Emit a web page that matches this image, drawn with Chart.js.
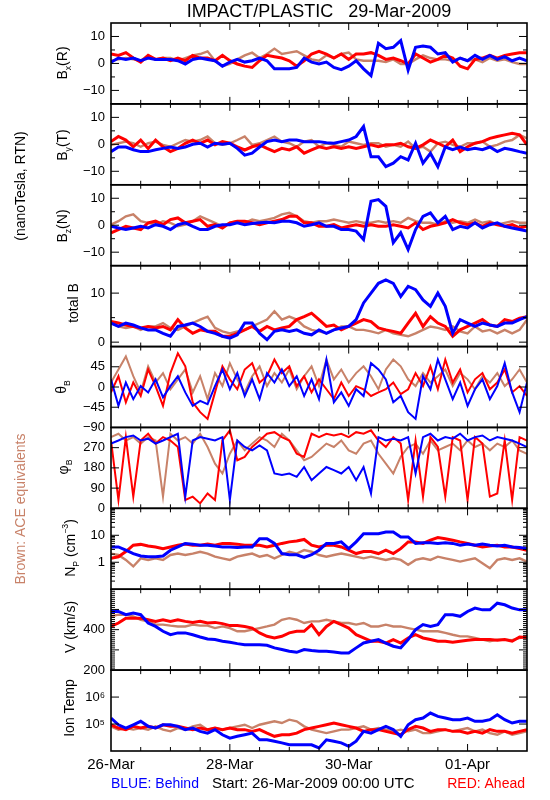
<!DOCTYPE html>
<html>
<head>
<meta charset="utf-8">
<script src="https://cdn.jsdelivr.net/npm/chart.js@4.4.1/dist/chart.umd.min.js"></script>
<style>
  html, body { margin: 0; padding: 0; background: #fff; }
  #wrap { position: relative; width: 550px; height: 800px; }
</style>
</head>
<body>
<div id="wrap"><canvas id="plasma" width="550" height="800"></canvas></div>
<script>
// Time grid: hours since 26-Mar-2009 00:00 UTC, one sample every 3 hours
const hours = [0,3,6,9,12,15,18,21,24,27,30,33,36,39,42,45,48,51,54,57,60,63,66,69,72,75,78,81,84,87,90,93,96,99,102,105,108,111,114,117,120,123,126,129,132,135,138,141,144,147,150,153,156,159,162,165,168];
const dayTicks = [0, 48, 96, 144];
const dayLabels = ['26-Mar', '28-Mar', '30-Mar', '01-Apr'];

// Bx (nT)
const bxBlue = [0.5,2,1.5,2,1,2,1.5,1.5,1.5,1,-0.2,1.5,2,1.5,1,-1,0.5,1.5,0.5,1,2,1,-2,-2,-2,-1.5,2,0.5,-0.2,0.5,-1.5,-2.3,-1,1,-2,-4.5,7.5,5.5,6,8.5,-2.5,6,6.5,6,3.5,4,0.5,2,1,3,1.5,3,1.5,2.5,1,2,1];
const bxRed = [3.5,3,4,2,0.5,3,1.5,2,1,2,1,3,2,2,1,3,1,-0.2,-1,-1.5,1,3,2.5,2,1,-1,1,3.5,4.5,3.5,2,3.5,1.5,3.5,3.5,4,3,1.5,2,1,-0.2,3.5,2,0.5,1.5,3,2,-1,-2,1.5,2,3,2,3,3.5,4,4];
const bxBrown = [1,1.5,2,1.5,1,3,1.5,2,2,1,2,3,3.5,4.5,1,-1,-0.2,1.5,3,4,2,3.5,5.5,3.5,4,4.5,3,1.5,1,3,2,3.5,4,1.5,1,1,1,0.5,1.5,-0.2,-0.2,1.5,3,2,1.5,1.5,1,2,1,1.5,0.5,2,1,1.5,0.5,-0.2,-0.2];

// By (nT)
const byBlue = [-2.7,-1,-1,-2,-2.7,-2.7,-2,-1.5,-1,-1.5,-1,0,0.4,-1,0.4,0,0.4,-1.5,-4,-3.3,-1,1,1.6,1,1.6,1.6,1,1,1,0.6,0.4,1,1.6,2.9,6.6,-4.6,-4.6,-8.3,-7,-4.6,-5.8,0.4,-7,-3.3,-8.3,-1,-2,-1,-2,-1.5,-2,-1,-2.7,-1.5,-2,-2.7,-3.3];
const byRed = [1,2.9,1.6,-0.9,1.6,-1.5,1.6,-0.9,-2.7,-1.5,0.4,1.6,0.4,1.6,-0.2,1,0.4,-0.9,-2.1,-0.9,-0.2,-1.5,-2.7,-1.5,-2.1,-0.9,-3.3,-2.1,-0.9,-1.5,-0.9,-1.5,-0.9,-1.5,-0.9,-0.2,-0.9,-0.2,-0.2,0.4,-0.9,-1.5,-0.2,1.6,0.4,-0.9,1.6,-2.7,-0.9,0.4,1,2.2,2.9,3.5,4.1,3.5,-0.2];
const byBrown = [-0.2,0.4,1,0.4,-0.9,0.4,1,-0.2,-0.9,0.4,1.6,1,1.6,2.9,0.4,-0.2,0.4,1.6,2.9,-0.2,0.4,1.6,2.9,1,0.4,-0.9,1,1.6,-0.9,0.4,-0.2,-0.9,1,0.4,-0.2,0.4,0.4,-0.9,-0.2,-0.9,1,-1.5,-0.9,-2.7,0.4,1,-0.2,-0.9,0.4,0.4,1,-0.9,-0.2,1,1.6,3.5,2.2];

// Bz (nT)
const bzBlue = [-0.4,-1,-1.6,-1,-0.4,-1,0.2,-0.4,-1.6,0.2,0.9,-0.4,-1.6,-1.6,-0.4,0.2,0.2,0.9,0.2,0.6,0.9,1.1,0.9,1.5,1.5,0.9,-0.4,0.2,0.9,-0.4,-0.4,-1.6,-1.6,-2.2,-5.3,8.9,9.5,7,-6.5,-2.8,-9,-1.6,3.3,4.6,0.9,3.3,-1.6,-0.4,-1,0.9,-1,0.2,0.9,-0.4,-1,-1.6,-2.2];
const bzRed = [-2.8,-1.6,-0.4,-1,-1.6,0.9,1.5,0.2,2.1,2.7,0.9,1.5,2.1,-0.4,0.2,-1,0.9,1.5,1.5,0.9,0.2,0.9,1.5,2.1,3.3,3.3,0.9,0.9,-0.4,-0.4,0.2,-1,-0.4,0.2,-0.4,0.2,-0.4,-0.4,0.2,-0.4,-1,0.9,-1.6,-0.4,0.2,0.9,2.1,0.9,0.2,0.9,-0.4,0.9,0.2,-0.4,0.2,-1,-0.4];
const bzBrown = [0.2,1.5,3.3,4,1.5,0.9,0.2,1.5,0.9,-0.4,0.2,1.5,3.3,2.1,0.9,-0.4,0.9,1.5,0.9,2.1,1.5,2.1,2.7,4,4.6,3.3,1.5,0.9,1.5,1.5,2.1,1.5,0.9,1.5,0.9,0.9,1.5,0.9,1.5,0.9,2.7,1.5,0.9,0.9,0.2,1.5,0.9,1.5,0.9,2.1,0.9,1.5,0.2,0.9,1.5,0.9,0.9];

// total B (nT)
const btBlue = [3.9,3.2,3.9,3.5,2.9,2.5,2.5,1.8,1.2,3.2,3.5,3.9,3.2,2.2,1.8,1.2,0.8,1.5,3.9,3.9,1.8,0.5,2.2,2.5,2.2,2.5,1.8,1.5,2.5,1.8,2.5,2.9,3.2,4.6,8,10,12,12.7,12,9.3,11.4,10.7,8.6,7.3,10,7.3,1.8,4.6,3.9,3.2,3.9,3.5,3.2,3.9,3.9,4.6,5.2];
const btRed = [4.2,3.9,3.5,3.2,2.9,3.2,2.9,3.2,2.5,4.6,2.9,1.8,2.5,2.2,2.2,1.2,1.2,1.8,2.5,3.2,2.2,3.2,2.5,2.9,3.2,4.6,5.2,5.9,4.6,3.2,3.5,2.5,3.2,3.9,4.6,4.2,2.9,2.5,2.2,1.8,3.9,5.9,3.2,5.2,3.9,3.2,1.2,2.5,3.2,3.9,4.6,3.5,3.2,4.6,4.2,4.9,5.2];
const btBrown = [3.9,3.2,2.9,3.2,2.5,3.2,3.2,3.9,2.9,2.5,3.2,3.9,4.6,5.2,2.9,2.2,1.8,2.2,2.5,3.2,3.9,4.6,6.3,4.6,5.2,4.6,3.2,2.5,2.2,1.8,2.5,3.2,3.2,2.5,2.5,2.2,1.8,2.5,1.8,1.5,1.2,1.8,2.5,3.2,2.9,2.5,3.2,2.2,1.8,3.2,2.2,2.5,1.8,2.5,1.8,2.5,4.6];

// theta_B (deg)
const thBlue = [17,-42,10,-27,2,-12,17,-23,2,24,-12,-42,-31,-38,2,39,-5,31,-20,17,-27,31,10,39,2,24,-20,17,-27,61,-34,-12,-42,-5,-20,53,39,17,-34,-20,-56,-71,24,-5,61,17,-27,10,-42,-5,17,-27,2,53,-12,-56,10];
const thRed = [-12,24,-34,10,-20,39,2,-42,31,75,46,-34,-56,-71,-12,46,17,-5,39,53,10,24,61,31,46,2,24,-12,17,-5,-27,10,-20,2,-5,-20,-12,-5,10,-16,-5,31,2,46,-5,61,10,39,-12,17,31,-5,10,39,-12,2,-20];
const thBrown = [10,39,68,24,-12,46,10,31,-5,17,39,-12,24,-27,31,2,53,17,-12,24,46,2,31,10,39,-5,24,46,2,61,17,39,10,31,46,24,-5,39,61,46,17,2,31,10,24,39,2,31,17,-5,24,10,31,2,17,39,10];

// phi_B (deg)
const phBlue = [288,302,317,324,302,310,288,302,317,332,52,302,317,310,302,317,37,302,273,258,280,258,155,148,155,140,184,125,155,184,170,155,184,125,184,66,317,302,310,302,317,155,317,332,302,317,310,332,302,317,324,302,317,310,302,288,273];
const phRed = [302,37,317,52,302,332,288,317,302,273,37,52,22,66,37,302,347,214,229,273,302,332,339,317,302,243,229,332,317,332,324,332,317,339,332,347,302,273,317,288,37,302,52,317,273,52,317,302,37,317,288,52,66,302,37,317,302];
const phBrown = [317,332,302,317,288,317,302,52,332,302,317,288,332,273,199,155,243,302,258,288,317,302,273,332,302,258,214,229,258,288,273,302,258,243,288,302,243,199,155,229,273,288,243,302,258,273,288,258,302,273,288,258,288,273,302,258,243];

// proton density (cm^-3)
const npBlue = [3.7,3.7,2.8,2.1,1.7,1.6,1.6,1.7,2.8,3.7,5.0,4.7,4.3,4.3,4.0,3.7,3.7,3.5,3.7,3.7,7.5,7.5,5.0,2.1,1.9,1.9,1.5,1.9,2.8,5.0,5.0,5.7,3.2,5.7,11.5,11.5,11.5,13.2,13.2,8.7,8.7,5.0,5.3,5.3,5.0,5.3,5.0,4.3,4.7,4.3,4.7,4.3,4.0,4.3,3.7,3.5,3.2];
const npRed = [1.4,1.6,2.5,4.3,4.6,4.0,3.7,3.2,3.7,4.3,4.7,4.3,4.3,4.7,4.3,5.0,5.0,4.7,4.3,4.3,4.3,3.7,4.3,5.0,5.7,6.2,7.0,4.3,3.7,4.3,4.3,3.7,2.8,2.1,2.5,2.5,2.1,2.8,2.1,3.2,5.7,5.7,5.0,6.6,8.2,7.5,6.6,5.7,5.0,4.3,3.7,4.0,4.3,3.7,3.7,3.2,2.8];
const npBrown = [2.1,1.86,1.22,0.7,1.4,1.22,1.4,1.22,1.86,2.1,1.86,2.1,2.46,2.1,1.61,1.4,1.22,1.61,1.86,2.1,1.61,1.86,1.4,1.86,2.46,2.1,2.83,2.46,1.86,1.61,1.86,2.1,1.86,1.61,1.4,1.61,1.4,1.22,1.4,1.22,0.8,1.22,1.4,1.22,1.61,1.4,1.22,1.06,1.22,1.4,0.92,0.6,1.22,1.4,1.22,1.4,1.06];

// bulk speed (km/s)
const vBlue = [490,490,474,482,474,433,416,392,375,384,384,375,364,354,351,343,338,331,326,326,325,323,310,302,293,288,302,297,293,293,290,285,285,310,334,343,351,334,318,310,351,400,425,416,425,474,474,466,490,507,498,498,531,523,507,498,498];
const vRed = [416,433,457,457,457,449,441,449,441,449,441,436,441,433,436,430,420,420,416,408,384,367,359,367,384,392,392,425,375,416,441,425,408,375,359,343,343,334,351,334,359,375,359,351,343,343,338,343,348,351,351,351,348,351,343,364,361];
const vBrown = [466,474,474,466,449,441,425,425,420,416,416,425,420,420,408,416,408,392,392,400,408,416,425,449,457,449,433,441,441,449,441,433,433,425,433,416,416,425,416,416,408,400,392,392,392,384,375,367,367,359,351,343,351,351,348,359,367];

// ion temperature (K)
const tBlue = [1.67e5,9.4e4,7.1e4,9.4e4,1.26e5,8.2e4,7.1e4,9.4e4,9.4e4,8.2e4,6.2e4,7.1e4,5.35e4,4.6e4,6.2e4,4.0e4,3.0e4,3.5e4,4.0e4,4.6e4,2.6e4,2.6e4,2.3e4,2.0e4,1.7e4,1.7e4,1.7e4,1.7e4,1.3e4,2.6e4,2.3e4,2.0e4,1.5e4,2.3e4,5.35e4,4.6e4,6.2e4,8.2e4,6.2e4,3.5e4,9.4e4,1.45e5,1.67e5,2.55e5,1.92e5,1.67e5,1.45e5,1.45e5,1.67e5,1.26e5,1.26e5,1.45e5,2.22e5,1.45e5,1.09e5,1.26e5,1.26e5];
const tRed = [9.4e4,7.1e4,6.2e4,8.2e4,7.1e4,8.2e4,7.1e4,9.4e4,8.2e4,8.2e4,7.1e4,6.2e4,7.1e4,6.2e4,7.1e4,6.2e4,7.1e4,6.2e4,6.2e4,5.35e4,6.2e4,4.6e4,3.5e4,4.0e4,4.0e4,4.6e4,6.2e4,7.1e4,8.2e4,9.4e4,1.09e5,9.4e4,8.2e4,7.1e4,5.35e4,6.2e4,6.2e4,5.35e4,4.6e4,4.0e4,6.2e4,8.2e4,7.1e4,5.35e4,6.2e4,6.2e4,5.35e4,5.35e4,4.6e4,5.35e4,4.6e4,6.2e4,5.35e4,5.35e4,4.6e4,5.35e4,6.2e4];
const tBrown = [8.2e4,6.2e4,7.1e4,6.2e4,7.1e4,6.2e4,8.2e4,6.2e4,5.35e4,7.1e4,6.2e4,8.2e4,9.4e4,6.2e4,7.1e4,6.2e4,7.1e4,8.2e4,9.4e4,7.1e4,9.4e4,1.09e5,1.26e5,1.09e5,1.45e5,1.26e5,8.2e4,6.2e4,5.35e4,4.6e4,5.35e4,6.2e4,6.2e4,7.1e4,8.2e4,6.2e4,7.1e4,6.2e4,5.35e4,6.2e4,5.35e4,6.2e4,4.6e4,4.6e4,5.35e4,6.2e4,5.35e4,6.2e4,7.1e4,5.35e4,6.2e4,4.6e4,4.0e4,5.35e4,4.0e4,4.6e4,5.35e4];

// y tick labels per panel
const bLabels = [10, 0, -10];
const btLabels = [10, 0];
const thLabels = [45, 0, -45, -90];
const phLabels = [270, 180, 90, 0];
const npLabels = [10, 1];
const vLabels = [400, 200];
const tLabels = [1e6, 1e5];

const BLUE = '#0000ff';
const RED = '#ff0000';
const BROWN = 'rgb(200,130,105)';
const FONT = '"Liberation Sans", Arial, sans-serif';

const num = (v) => (v < 0 ? '\u2212' + Math.abs(v) : String(v));
const pow10 = (v) => ({1e5: '10\u2075', 1e6: '10\u2076'}[v] || '');

// minor tick helpers (axis decoration only)
const logMinors = (lo, hi) => {
  const out = [];
  for (let d = lo; d < hi; d *= 10) for (let k = 2; k <= 9; k++) out.push(d * k);
  return out;
};
const vMinors = [];
for (let v = 200; v <= 600; v += 10) if (v % 100) vMinors.push(v);

const panels = [
  { id: 'bx', type: 'linear', min: -15, max: 15, labels: bLabels, fmt: num, major: [10, 0, -10], minor: [5, -5],
    title: [['B'], ['x', 'sub'], ['(R)']], tx: 63, ty: 63, series: [bxBlue, bxRed, bxBrown] },
  { id: 'by', type: 'linear', min: -15, max: 15, labels: bLabels, fmt: num, major: [10, 0, -10], minor: [5, -5],
    title: [['B'], ['y', 'sub'], ['(T)']], tx: 63, ty: 145, series: [byBlue, byRed, byBrown] },
  { id: 'bz', type: 'linear', min: -15, max: 15, labels: bLabels, fmt: num, major: [10, 0, -10], minor: [5, -5],
    title: [['B'], ['z', 'sub'], ['(N)']], tx: 63, ty: 226, series: [bzBlue, bzRed, bzBrown] },
  { id: 'bt', type: 'linear', min: -0.9, max: 15.6, labels: btLabels, fmt: num, major: [10, 0], minor: [5],
    title: [['total B']], tx: 74, ty: 303, series: [btBlue, btRed, btBrown] },
  { id: 'th', type: 'linear', min: -90, max: 90, labels: thLabels, fmt: num, major: [45, 0, -45], minor: [],
    title: [['\u03b8'], ['B', 'sub']], tx: 62, ty: 387, series: [thBlue, thRed, thBrown], thin: true },
  { id: 'ph', type: 'linear', min: 0, max: 360, labels: phLabels, fmt: num, major: [270, 180, 90], minor: [],
    title: [['\u03c6'], ['B', 'sub']], tx: 64, ty: 467, series: [phBlue, phRed, phBrown], thin: true },
  { id: 'np', type: 'logarithmic', min: 0.1, max: 100, labels: npLabels, fmt: num, major: [1, 10], minor: logMinors(0.1, 100),
    title: [['N'], ['P', 'sub'], [' (cm'], ['\u22123', 'sup'], [')']], tx: 71, ty: 548, series: [npBlue, npRed, npBrown] },
  { id: 'v', type: 'linear', min: 200, max: 600, labels: vLabels, fmt: num, major: [300, 400, 500], minor: vMinors,
    title: [['V (km/s)']], tx: 71, ty: 627, series: [vBlue, vRed, vBrown] },
  { id: 'ti', type: 'logarithmic', min: 1e4, max: 1e7, labels: tLabels, fmt: pow10, major: [1e5, 1e6], minor: [],
    title: [['Ion Temp']], tx: 70, ty: 708, series: [tBlue, tRed, tBrown] },
];

// Draw a rotated label made of normal / sub / sup pieces, centred on (cx, cy).
function drawRotated(ctx, segs, cx, cy, size, color) {
  ctx.save();
  ctx.translate(cx, cy);
  ctx.rotate(-Math.PI / 2);
  ctx.fillStyle = color || '#000';
  ctx.textBaseline = 'middle';
  ctx.textAlign = 'left';
  const parts = segs.map(([t, kind]) => {
    const fs = kind ? size * 0.62 : size;
    ctx.font = `${fs}px ${FONT}`;
    return { t, kind, fs, w: ctx.measureText(t).width };
  });
  let x = -parts.reduce((a, p) => a + p.w, 0) / 2;
  parts.forEach((p) => {
    ctx.font = `${p.fs}px ${FONT}`;
    const dy = p.kind === 'sub' ? size * 0.38 : p.kind === 'sup' ? -size * 0.4 : 0;
    ctx.fillText(p.t, x, dy);
    x += p.w;
  });
  ctx.restore();
}

// Panel frames, inward ticks and the free text round the plot.
const framePlugin = {
  id: 'frame',
  afterDatasetsDraw(chart) {
    const { ctx, chartArea: { left, right } } = chart;
    const xs = chart.scales.x;
    ctx.save();
    ctx.strokeStyle = '#000';
    panels.forEach((p) => {
      const s = chart.scales[p.id];
      const top = s.top, bottom = s.bottom;
      ctx.lineWidth = 1;
      ctx.beginPath();
      const yTick = (v, len) => {
        const y = s.getPixelForValue(v);
        ctx.moveTo(left, y); ctx.lineTo(left + len, y);
        ctx.moveTo(right, y); ctx.lineTo(right - len, y);
      };
      p.major.forEach((v) => yTick(v, 8));
      p.minor.forEach((v) => yTick(v, 4));
      for (let h = 12; h < 168; h += 12) {
        const x = xs.getPixelForValue(h);
        const len = h % 48 === 0 ? 7 : 4;
        ctx.moveTo(x, top); ctx.lineTo(x, top + len);
        ctx.moveTo(x, bottom); ctx.lineTo(x, bottom - len);
      }
      ctx.stroke();
      ctx.lineWidth = 1.6;
      ctx.strokeRect(left, top, right - left, bottom - top);
    });
    ctx.restore();
  },
  afterDraw(chart) {
    const { ctx, chartArea: { left, right } } = chart;
    ctx.save();
    ctx.fillStyle = '#000';
    ctx.textBaseline = 'middle';
    ctx.textAlign = 'center';
    ctx.font = `18px ${FONT}`;
    ctx.fillText('IMPACT/PLASTIC   29-Mar-2009', (left + right) / 2, 12);

    panels.forEach((p) => drawRotated(ctx, p.title, p.tx, p.ty, 14));
    drawRotated(ctx, [['(nanoTesla, RTN)']], 21, 186, 14);
    drawRotated(ctx, [['Brown: ACE equivalents']], 21, 509, 14, BROWN);

    ctx.textAlign = 'left';
    ctx.font = `14px ${FONT}`;
    ctx.fillStyle = BLUE;
    ctx.fillText('BLUE: Behind', 111, 784);
    ctx.fillStyle = '#000';
    ctx.font = `15px ${FONT}`;
    ctx.fillText('Start: 26-Mar-2009 00:00 UTC', 212, 784);
    ctx.fillStyle = RED;
    ctx.font = `14px ${FONT}`;
    ctx.textAlign = 'right';
    ctx.fillText('RED: Ahead', 525, 784);
    ctx.restore();
  }
};

const scales = {
  x: {
    type: 'linear', position: 'bottom', min: 0, max: 168,
    grid: { display: false, drawTicks: false },
    border: { display: false },
    afterBuildTicks: (s) => { s.ticks = dayTicks.map((v) => ({ value: v })); },
    afterFit: (s) => { s.height = 49; },
    ticks: {
      autoSkip: false, maxRotation: 0, padding: 5, color: '#000',
      font: { family: FONT, size: 15 },
      callback: (v) => dayLabels[dayTicks.indexOf(v)] || ''
    }
  }
};

const datasets = [];
panels.forEach((p, k) => {
  scales[p.id] = {
    type: p.type, position: 'left', stack: 'panels', stackWeight: 1, weight: panels.length - k,
    min: p.min, max: p.max, offset: false,
    grid: { display: false, drawTicks: false },
    border: { display: false },
    afterBuildTicks: (s) => { s.ticks = p.labels.map((v) => ({ value: v })); },
    afterFit: (s) => { s.width = 111; },
    ticks: {
      autoSkip: false, padding: 6, color: '#000',
      font: { family: FONT, size: 13 },
      callback: (v) => p.fmt(v)
    }
  };
  const colors = [BLUE, RED, BROWN];
  p.series.forEach((arr, j) => {
    datasets.push({
      label: p.id + j,
      data: hours.map((h, i) => ({ x: h, y: arr[i] })),
      xAxisID: 'x',
      yAxisID: p.id,
      borderColor: colors[j],
      borderWidth: p.thin ? 2 : (j === 2 ? 2.4 : 3),
      pointRadius: 0,
      tension: 0,
      fill: false
    });
  });
});

new Chart(document.getElementById('plasma').getContext('2d'), {
  type: 'line',
  data: { datasets },
  options: {
    responsive: false,
    animation: false,
    devicePixelRatio: 1,
    layout: { padding: { top: 23, right: 23, bottom: 0, left: 0 } },
    plugins: { legend: { display: false }, tooltip: { enabled: false }, title: { display: false } },
    scales
  },
  plugins: [framePlugin]
});
</script>
</body>
</html>
